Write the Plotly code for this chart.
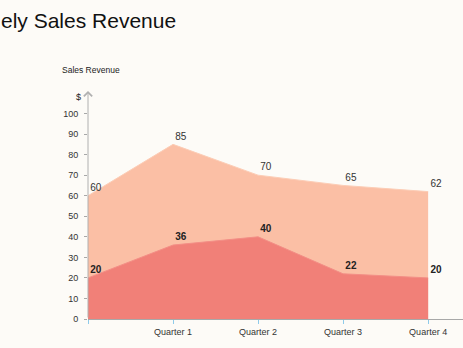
import plotly.graph_objects as go

quarters = ["", "Quarter 1", "Quarter 2", "Quarter 3", "Quarter 4"]
total_revenue = [60, 85, 70, 65, 62]
segment_revenue = [20, 36, 40, 22, 20]
y_ticks = [0, 10, 20, 30, 40, 50, 60, 70, 80, 90, 100]

BG = "#FDFBF7"
LIGHT = "#FBBFA5"
DARK = "#F18078"
FONT = "Liberation Sans, Arial, sans-serif"

xs = list(range(len(quarters)))

fig = go.Figure()
fig.add_trace(go.Scatter(
    x=xs, y=total_revenue, mode="lines+markers+text", fill="tozeroy",
    fillcolor=LIGHT, line=dict(color="#FCCDB6", width=1),
    marker=dict(size=2, opacity=0),
    text=[str(v) for v in total_revenue], textposition="top right",
    textfont=dict(family=FONT, size=10, color="#333333"),
    cliponaxis=False, hoverinfo="skip", showlegend=False,
))
fig.add_trace(go.Scatter(
    x=xs, y=segment_revenue, mode="lines+markers+text", fill="tozeroy",
    fillcolor=DARK, line=dict(color="#F38E86", width=1),
    marker=dict(size=2, opacity=0),
    text=[str(v) for v in segment_revenue], textposition="top right",
    textfont=dict(family=FONT, size=10, color="#222222", weight="bold"),
    cliponaxis=False, hoverinfo="skip", showlegend=False,
))

fig.update_layout(
    width=463, height=348,
    margin=dict(l=88, r=0, t=93, b=29),
    paper_bgcolor=BG, plot_bgcolor=BG,
    font=dict(family=FONT, color="#333333"),
    xaxis=dict(
        range=[0, 4.41], tickvals=xs, ticktext=quarters,
        showgrid=False, zeroline=False,
        showline=True, linecolor="#A8A8A8", linewidth=1,
        ticks="outside", ticklen=4, tickcolor="#8FCBEA", tickwidth=1,
        tickfont=dict(family=FONT, size=9, color="#333333"),
    ),
    yaxis=dict(
        range=[0, 110], tickvals=y_ticks, ticktext=[str(v) for v in y_ticks],
        showgrid=False, zeroline=False, showline=False,
        ticks="outside", ticklen=3, tickcolor="#A8A8A8", tickwidth=1,
        ticklabelstandoff=4,
        tickfont=dict(family=FONT, size=9, color="#333333"),
    ),
    annotations=[
        dict(x=0, y=111, xref="x", yref="y", ax=0, ay=0, axref="x", ayref="y",
             text="", showarrow=True, arrowhead=4, arrowsize=1.6, arrowwidth=1,
             arrowcolor="#B0B0B0", standoff=0, startstandoff=0),
        dict(x=0, y=108, xref="paper", yref="y", xanchor="right", yanchor="middle",
             xshift=-5, text="$", showarrow=False,
             font=dict(family=FONT, size=9, color="#222222")),
        dict(x=-0.0747, y=(319 - 70) / 226, xref="paper", yref="paper",
             xanchor="left", yanchor="middle", text="Sales Revenue",
             showarrow=False, font=dict(family=FONT, size=8.5, color="#222222")),
        dict(x=-88 / 375, y=(319 - 21) / 226, xref="paper", yref="paper",
             xanchor="left", yanchor="middle", xshift=-1, text="ely Sales Revenue",
             showarrow=False, font=dict(family=FONT, size=21, color="#111111")),
    ],
)

fig.write_html("out.html")
